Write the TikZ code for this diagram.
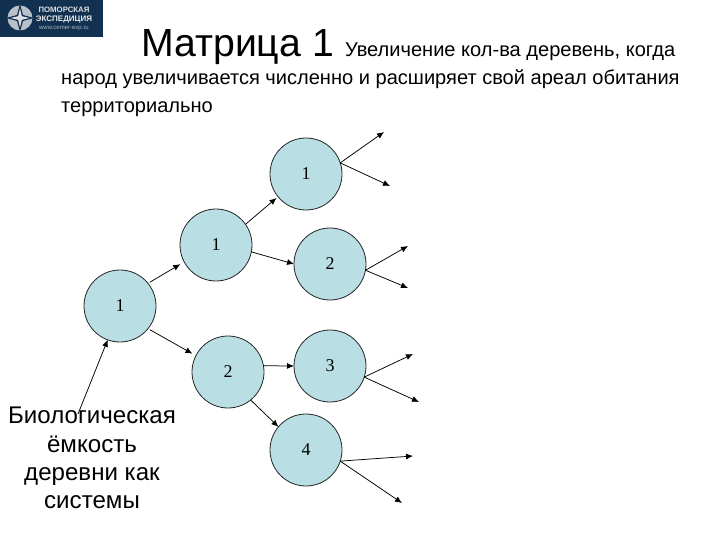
\documentclass[tikz,border=0pt]{standalone}
\usepackage{fontspec}
\setmainfont{Liberation Sans}
\newfontfamily\serifrm{Liberation Serif}
\definecolor{nodefill}{HTML}{B9DEE4}
\definecolor{logoblue}{HTML}{12304F}
\usetikzlibrary{arrows.meta}
\tikzset{
  circ/.style={circle,draw=black!85,fill=nodefill,line width=0.8pt,minimum size=72pt,inner sep=0pt,outer sep=0pt,font=\serifrm\fontsize{18}{18}\selectfont},
  conn/.style={-{Latex[length=7pt,width=6pt]},line width=0.75pt,black},
  txt/.style={inner sep=0pt,anchor=base west,black},
}
\begin{document}
\begin{tikzpicture}[x=1pt,y=-1pt]
\useasboundingbox (0,0) rectangle (720,540);
\fill[white] (0,0) rectangle (720,540);
% logo
\fill[logoblue] (0,0) rectangle (103,37);
\fill[white!70!logoblue] (20,18) circle (12.5);
\fill[logoblue] (20,4) -- (23,15) -- (34,18) -- (23,21) -- (20,32) -- (17,21) -- (6,18) -- (17,15) -- cycle;
\fill[white!85!logoblue] (20,8.5) -- (21.8,16.2) -- (29.5,18) -- (21.8,19.8) -- (20,27.5) -- (18.2,19.8) -- (10.5,18) -- (18.2,16.2) -- cycle;
\node[inner sep=0pt,text=white!85!logoblue,font=\bfseries\fontsize{7.8}{7.8}\selectfont] (logoa) at (64,10) {ПОМОРСКАЯ};
\node[inner sep=0pt,text=white!90!logoblue,font=\bfseries\fontsize{8}{8}\selectfont] (logob) at (64,20) {ЭКСПЕДИЦИЯ};
\node[inner sep=0pt,text=white!65!logoblue,font=\fontsize{6}{6}\selectfont] (logoc) at (64,29) {www.cemer-exp.ru};
% title text
\node[txt,font=\fontsize{39.2}{39.2}\selectfont] (title) at (141,57) {Матрица 1};
\node[txt,font=\fontsize{20.05}{20.05}\selectfont] (t1) at (345,57) {Увеличение кол-ва деревень, когда};
\node[txt,font=\fontsize{20.05}{20.05}\selectfont] (t2) at (61,85) {народ увеличивается численно и расширяет свой ареал обитания};
\node[txt,font=\fontsize{20.05}{20.05}\selectfont] (t3) at (61,113) {территориально};
% nodes
\node[circ] (a) at (120,306) {1};
\node[circ] (b) at (216,245) {1};
\node[circ] (c) at (228,372) {2};
\node[circ] (d) at (306,174) {1};
\node[circ] (e) at (330,264) {2};
\node[circ] (f) at (330,366) {3};
\node[circ] (g) at (306,450) {4};
% label
\node[align=center,inner sep=0pt,font=\fontsize{24.1}{28.3}\selectfont] (lab) at (92,458) {Биологическая\\ёмкость\\деревни как\\системы};
% free ends
\coordinate (lstart) at (78,414);
\coordinate (d1) at (384,132);
\coordinate (d2) at (390,186);
\coordinate (e1) at (408,246);
\coordinate (e2) at (408,288);
\coordinate (f1) at (413,354);
\coordinate (f2) at (419,402);
\coordinate (g1) at (413,456);
\coordinate (g2) at (402,503);
% connectors
\draw[conn,shorten <=2pt,shorten >=4.5pt] (a.39) -- (b.208);
\draw[conn,shorten <=2pt,shorten >=4pt] (a.-39) -- (c.153);
\draw[conn,shorten >=2pt] (b.35) -- (d.219);
\draw[conn] (b.-11) -- (e.180);
\draw[conn] (c.10) -- (f.180);
\draw[conn] (c.-51) -- (g.140);
\draw[conn] (lstart) -- (a.250);
\draw[conn] (d.18) -- (d1);
\draw[conn] (d.18) -- (d2);
\draw[conn] (e.-10) -- (e1);
\draw[conn] (e.-10) -- (e2);
\draw[conn] (f.-18) -- (f1);
\draw[conn] (f.-18) -- (f2);
\draw[conn] (g.-18) -- (g1);
\draw[conn] (g.-18) -- (g2);
\end{tikzpicture}
\end{document}
